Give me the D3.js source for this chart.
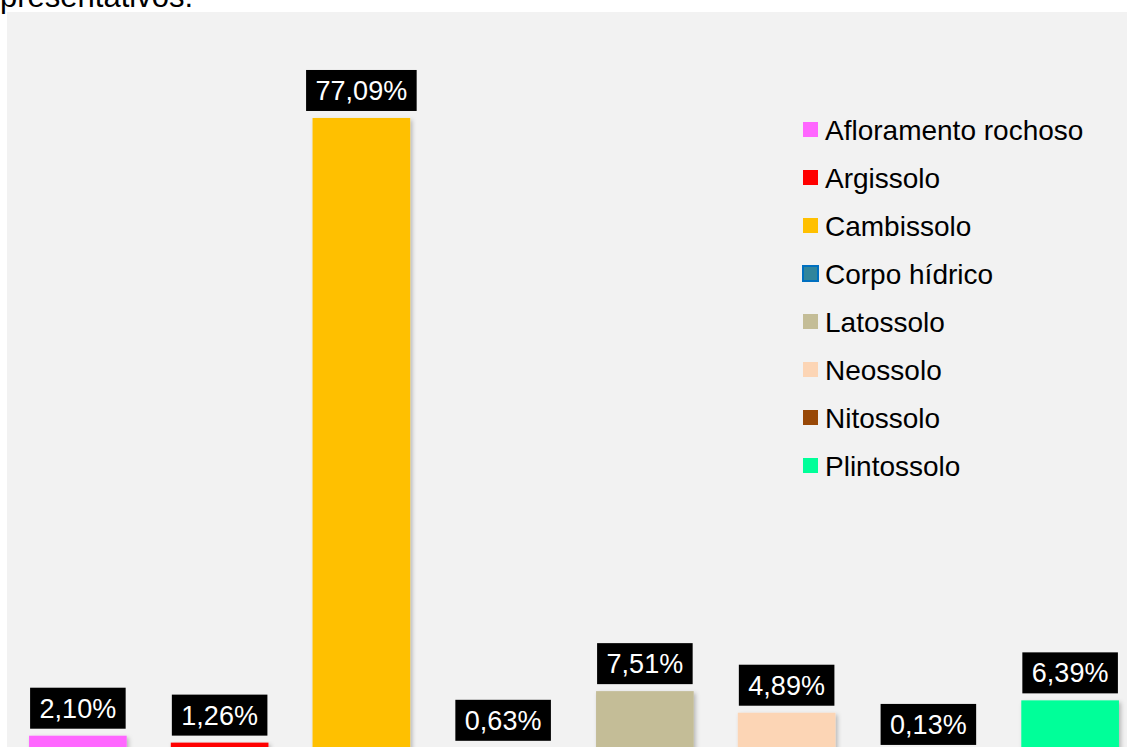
<!DOCTYPE html>
<html>
<head>
<meta charset="utf-8">
<script src="https://cdn.jsdelivr.net/npm/d3@7"></script>
<style>
    body { margin: 0; background: #ffffff; }
    svg { display: block; font-family: "Liberation Sans", Arial, sans-serif; }
</style>
</head>
<body>
<div id="chart"></div>
<script>
// soil classes and their share of the area (%)
var categories = ["Afloramento rochoso", "Argissolo", "Cambissolo", "Corpo hídrico",
                  "Latossolo", "Neossolo", "Nitossolo", "Plintossolo"];
var values = [2.10, 1.26, 77.09, 0.63, 7.51, 4.89, 0.13, 6.39];
var labels = ["2,10%", "1,26%", "77,09%", "0,63%", "7,51%", "4,89%", "0,13%", "6,39%"];
var fills = ["#ff66ff", "#ff0000", "#ffc000", "#31859c", "#c4bd97", "#fcd5b5", "#984807", "#00ff99"];
var strokes = [null, null, null, "#0070c0", null, null, null, null];

var width = 1127, height = 747;

var svg = d3.select("#chart").append("svg")
    .attr("width", width)
    .attr("height", height);

// soft shadow under the bars
var defs = svg.append("defs");
defs.append("filter").attr("id", "shadow")
    .attr("x", "-10%").attr("y", "-10%").attr("width", "130%").attr("height", "130%")
    .append("feDropShadow")
    .attr("dx", 2).attr("dy", 2).attr("stdDeviation", 2)
    .attr("flood-color", "#000").attr("flood-opacity", 0.25);

// cut-off text line from the page above the chart (cropped like in the source picture)
svg.append("text")
    .attr("x", 193).attr("y", 7)
    .attr("text-anchor", "end")
    .style("font-size", "31px")
    .attr("fill", "#000")
    .text("presentativos:");

// grey chart area (runs off the bottom/right of the picture)
svg.append("rect")
    .attr("x", 7).attr("y", 12)
    .attr("width", width).attr("height", height)
    .attr("fill", "#f2f2f2");

var x = d3.scaleBand()
    .domain(categories)
    .range([7, 1141])
    .paddingInner(0.311)
    .paddingOuter(0.1555);

var y = d3.scaleLinear()
    .domain([0, 80])
    .range([753, 94]);

var bars = svg.append("g").attr("class", "bars");
bars.selectAll("rect")
    .data(categories)
    .enter().append("rect")
    .attr("x", function (d) { return x(d); })
    .attr("y", function (d, i) { return y(values[i]); })
    .attr("width", x.bandwidth())
    .attr("height", function (d, i) { return y(0) - y(values[i]); })
    .attr("fill", function (d, i) { return fills[i]; })
    .attr("stroke", function (d, i) { return strokes[i] || "none"; })
    .attr("stroke-width", 2)
    .attr("filter", "url(#shadow)");

// data labels: white text on black boxes
var boxH = 41, padX = 9.5, gap = 7;
var lab = svg.append("g").attr("class", "labels")
    .selectAll("g")
    .data(categories)
    .enter().append("g");

lab.append("rect").attr("fill", "#000");
lab.append("text")
    .attr("fill", "#fff")
    .attr("text-anchor", "middle")
    .style("font-size", "27px")
    .text(function (d, i) { return labels[i]; });

lab.each(function (d, i) {
    var g = d3.select(this),
        cx = x(d) + x.bandwidth() / 2,
        bottom = y(values[i]) - gap,
        tw = g.select("text").node().getComputedTextLength();
    g.select("rect")
        .attr("x", cx - tw / 2 - padX)
        .attr("y", bottom - boxH)
        .attr("width", tw + 2 * padX)
        .attr("height", boxH);
    g.select("text")
        .attr("x", cx)
        .attr("y", bottom - boxH / 2)
        .attr("dy", "0.35em");
});

// legend
var legend = svg.append("g").attr("class", "legend")
    .selectAll("g")
    .data(categories)
    .enter().append("g")
    .attr("transform", function (d, i) { return "translate(803," + (130 + 48 * i) + ")"; });

legend.append("rect")
    .attr("x", 0).attr("y", -8)
    .attr("width", 15).attr("height", 15)
    .attr("fill", function (d, i) { return fills[i]; })
    .attr("stroke", function (d, i) { return strokes[i] || "none"; })
    .attr("stroke-width", 2);

legend.append("text")
    .attr("x", 22).attr("dy", "0.35em")
    .style("font-size", "28px")
    .attr("fill", "#000")
    .text(function (d) { return d; });
</script>
</body>
</html>
